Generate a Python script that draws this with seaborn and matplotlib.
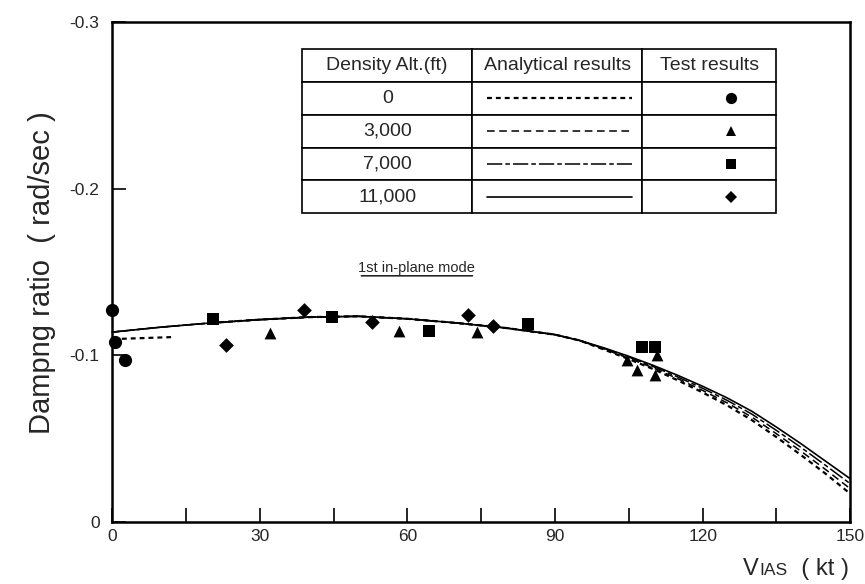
import matplotlib
matplotlib.use("Agg")
import matplotlib.pyplot as plt
import seaborn as sns
import pandas as pd
from matplotlib.lines import Line2D

# analytical curves
speed_grid = [0, 10, 20, 30, 40, 50, 60, 70, 80, 90, 95, 100, 105, 110, 115,
              120, 125, 130, 135, 140, 145, 150]
zeta_11000 = [-0.114, -0.117, -0.1195, -0.1215, -0.123, -0.1235, -0.122, -0.1195,
              -0.1165, -0.1125, -0.109, -0.1045, -0.0995, -0.094, -0.088,
              -0.0815, -0.0745, -0.0665, -0.057, -0.047, -0.0365, -0.026]
zeta_7000 = [-0.114, -0.117, -0.1195, -0.1215, -0.123, -0.1235, -0.122, -0.1195,
             -0.1165, -0.1125, -0.109, -0.1042, -0.099, -0.0933, -0.087,
             -0.0803, -0.073, -0.0648, -0.055, -0.0448, -0.034, -0.023]
zeta_3000 = [-0.114, -0.117, -0.1195, -0.1215, -0.123, -0.1235, -0.122, -0.1195,
             -0.1165, -0.1125, -0.109, -0.1038, -0.0983, -0.0925, -0.086,
             -0.079, -0.0715, -0.063, -0.053, -0.0425, -0.0315, -0.020]
# 0 ft curve: short visible piece at low speed, then it runs under the others
speed_0_low = [2, 12]
zeta_0_low = [-0.110, -0.111]
speed_0 = [20, 30, 40, 50, 60, 70, 80, 90, 95, 100, 105, 110, 115,
           120, 125, 130, 135, 140, 145, 150]
zeta_0 = [-0.1195, -0.1215, -0.123, -0.1235, -0.122, -0.1195,
          -0.1165, -0.1125, -0.109, -0.1035, -0.0978, -0.0918, -0.085,
          -0.0778, -0.070, -0.0612, -0.051, -0.0402, -0.029, -0.017]

# flight test points
test_speed_0 = [0, 0.7, 2.6]
test_zeta_0 = [-0.127, -0.108, -0.097]
test_speed_3000 = [32.1, 58.3, 74.2, 104.6, 106.6, 110.7, 110.4]
test_zeta_3000 = [-0.1136, -0.1148, -0.114, -0.097, -0.091, -0.100, -0.088]
test_speed_7000 = [20.5, 44.7, 64.4, 84.6, 107.6, 110.4]
test_zeta_7000 = [-0.122, -0.123, -0.1146, -0.119, -0.105, -0.105]
test_speed_11000 = [23.2, 39.0, 52.8, 72.4, 77.4]
test_zeta_11000 = [-0.106, -0.127, -0.120, -0.124, -0.1176]

altitudes = ["0", "3,000", "7,000", "11,000"]
x_ticks = [0, 30, 60, 90, 120, 150]
x_minor = [15, 45, 75, 105, 135]
y_ticks = [0, -0.1, -0.2, -0.3]
y_tick_labels = ["0", "-0.1", "-0.2", "-0.3"]

sns.set_style("ticks")
plt.rcParams["font.family"] = ["Liberation Sans", "DejaVu Sans"]

curves = pd.concat([
    pd.DataFrame({"speed": speed_0_low, "zeta": zeta_0_low, "alt": "0", "piece": 0}),
    pd.DataFrame({"speed": speed_0, "zeta": zeta_0, "alt": "0", "piece": 1}),
    pd.DataFrame({"speed": speed_grid, "zeta": zeta_3000, "alt": "3,000", "piece": 0}),
    pd.DataFrame({"speed": speed_grid, "zeta": zeta_7000, "alt": "7,000", "piece": 0}),
    pd.DataFrame({"speed": speed_grid, "zeta": zeta_11000, "alt": "11,000", "piece": 0}),
])
tests = pd.concat([
    pd.DataFrame({"speed": test_speed_0, "zeta": test_zeta_0, "alt": "0"}),
    pd.DataFrame({"speed": test_speed_3000, "zeta": test_zeta_3000, "alt": "3,000"}),
    pd.DataFrame({"speed": test_speed_7000, "zeta": test_zeta_7000, "alt": "7,000"}),
    pd.DataFrame({"speed": test_speed_11000, "zeta": test_zeta_11000, "alt": "11,000"}),
])

line_styles = {"0": (0, (2.2, 1.8)), "3,000": (0, (5, 3)),
               "7,000": (0, (10, 2, 3, 2)), "11,000": "-"}
line_widths = {"0": 1.6, "3,000": 1.1, "7,000": 1.1, "11,000": 1.2}
markers = {"0": "o", "3,000": "^", "7,000": "s", "11,000": "D"}
marker_sizes = {"0": 9.5, "3,000": 8.5, "7,000": 8.5, "11,000": 7.5}

fig = plt.figure(figsize=(8.65, 5.84), dpi=100)
ax = fig.add_axes([0.1295, 0.106, 0.8535, 0.856])

for alt in altitudes:
    sub = curves[curves["alt"] == alt]
    sns.lineplot(data=sub, x="speed", y="zeta", units="piece", ax=ax,
                 color="black", linestyle=line_styles[alt],
                 linewidth=line_widths[alt], estimator=None, sort=False,
                 clip_on=False)

for alt in altitudes:
    sub = tests[tests["alt"] == alt]
    sns.scatterplot(data=sub, x="speed", y="zeta", ax=ax, color="black",
                    marker=markers[alt], s=marker_sizes[alt] ** 2,
                    edgecolor="black", linewidth=0, clip_on=False, zorder=5)

ax.set_xlim(0, 150)
ax.set_ylim(0, -0.3)
ax.set_xticks(x_ticks)
ax.set_xticklabels([str(t) for t in x_ticks], fontsize=12.5)
ax.set_xticks(x_minor, minor=True)
ax.set_yticks(y_ticks)
ax.set_yticklabels(y_tick_labels, fontsize=12.5)
ax.tick_params(axis="both", which="both", direction="in", length=10,
               width=1.2, color="black")
ax.tick_params(axis="x", which="major", pad=5)
ax.tick_params(axis="y", which="major", pad=9)
for sp in ax.spines.values():
    sp.set_linewidth(1.8)
    sp.set_color("black")
ax.set_xlabel("")
ax.set_ylabel("Dampng ratio  ( rad/sec )", fontsize=21, labelpad=10)

# x label with small capitals
t1 = ax.text(0.855, -0.115, "V", transform=ax.transAxes, fontsize=17,
             va="bottom", ha="left")
t2 = ax.annotate("IAS", xy=(1, 0), xycoords=t1, fontsize=12.5, va="bottom",
                 ha="left", xytext=(0.5, 1.3), textcoords="offset points")
ax.annotate("  ( kt )", xy=(1, 0), xycoords=t2, fontsize=17, va="bottom",
            ha="left", xytext=(0, -1.3), textcoords="offset points")

# mode label, underlined
mode = ax.text(0.413, 0.508, "1st in-plane mode", transform=ax.transAxes,
               fontsize=10.5, ha="center", va="center")
ax.annotate("", xy=(0, -0.05), xycoords=mode, xytext=(1, -0.05),
            textcoords=mode, arrowprops=dict(arrowstyle="-", lw=1, color="black"))

# legend table
tb_left, tb_bottom, tb_w, tb_h = 0.2575, 0.618, 0.642, 0.328
col_w = [0.359, 0.359, 0.282]
cell_text = [["Density Alt.(ft)", "Analytical results", "Test results"]]
cell_text += [[a, "", ""] for a in altitudes]
table = ax.table(cellText=cell_text, cellLoc="center", colWidths=col_w,
                 bbox=[tb_left, tb_bottom, tb_w, tb_h], zorder=6)
table.auto_set_font_size(False)
for (r, c), cell in table.get_celld().items():
    cell.set_linewidth(1.2)
    cell.set_edgecolor("black")
    cell.set_facecolor("white")
    cell.get_text().set_fontsize(14)

row_h = tb_h / 5
x_line0 = tb_left + tb_w * col_w[0]
x_mark = tb_left + tb_w * (col_w[0] + col_w[1] + col_w[2] * 0.66)
for i, alt in enumerate(altitudes):
    yc = tb_bottom + tb_h - row_h * (i + 1.5)
    ax.add_line(Line2D([x_line0 + 0.02, x_line0 + tb_w * col_w[1] - 0.014], [yc, yc],
                       transform=ax.transAxes, color="black",
                       linestyle=line_styles[alt], linewidth=line_widths[alt], zorder=7))
    ax.add_line(Line2D([x_mark], [yc], transform=ax.transAxes, color="black",
                       marker=markers[alt], markersize=marker_sizes[alt] * 0.85,
                       linestyle="none", markeredgewidth=0, zorder=7))

fig.savefig("out.png", dpi=100)
